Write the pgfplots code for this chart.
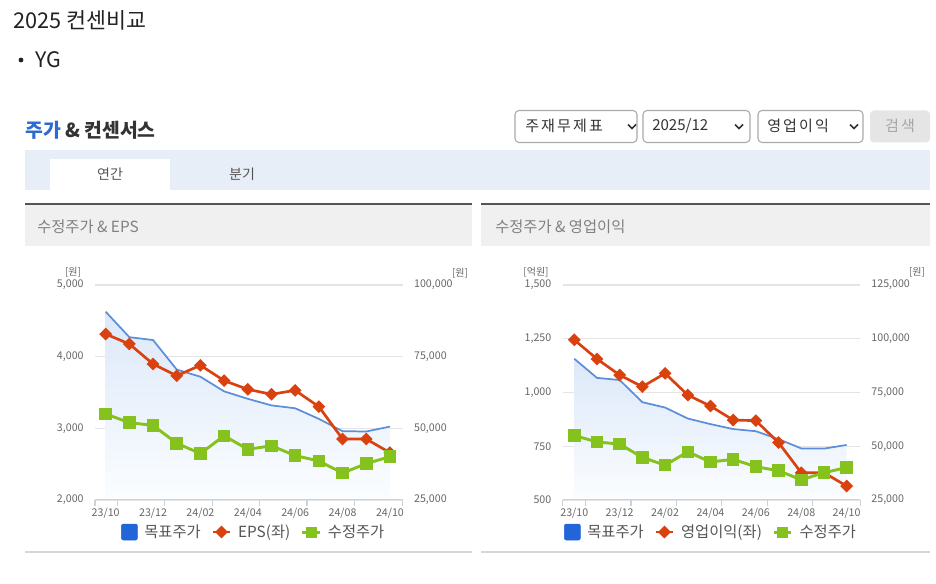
\documentclass[border=0pt]{standalone}
\usepackage{pgfplots}
\pgfplotsset{compat=1.18}
\usepackage{pgfplotstable}
\usepackage{fontspec}
\setmainfont{Noto Sans CJK KR}

\definecolor{lnblue}{HTML}{5B8EDB}
\definecolor{legblue}{HTML}{2165D9}
\definecolor{lnred}{HTML}{D9420F}
\definecolor{lngreen}{HTML}{86C21E}
\definecolor{areatop}{HTML}{DCE8F9}
\definecolor{areabot}{HTML}{FBFDFF}
\definecolor{axisc}{HTML}{C9D3DF}
\definecolor{gridc}{HTML}{E4E4E4}
\definecolor{tickc}{HTML}{666666}
\definecolor{legtxt}{HTML}{555555}
\definecolor{tabbar}{HTML}{E7EEF8}
\definecolor{headbg}{HTML}{F0F0F0}
\definecolor{headln}{HTML}{555555}
\definecolor{botln}{HTML}{D6D6D6}
\definecolor{titleblue}{HTML}{2E6BD0}
\definecolor{txtdark}{HTML}{222222}
\definecolor{txtmid}{HTML}{333333}
\definecolor{boxln}{HTML}{AAAAAA}

\newcommand\fs[1]{\fontsize{#1}{#1}\selectfont}
\newcommand\spaced{\addfontfeatures{LetterSpace=14}}

% month index, target price, EPS, operating profit (100M KRW), adjusted price
\pgfplotstableread{
i  tgt    eps   op    adj
0  90700  4316  1245  55000
1  81800  4177  1156  52000
2  80800  3898  1081  51000
3  70500  3734  1027  44800
4  68000  3879  1089  41200
5  62900  3665  988   47400
6  60300  3544  937   42700
7  58000  3475  872   43900
8  57000  3530  869   40500
9  53300  3302  767   38600
10 49000  2851  627   34400
11 48900  2851  627   37700
12 50600  2660  565   40100
}\tbl

\pgfplotsset{
  base/.style={
    anchor=south west, scale only axis, height=161.25pt,
    axis line style={draw=none}, major tick length=0pt,
    ticklabel style={font=\fs{8}, text=tickc},
    scaled y ticks=false,
    /pgf/number format/fixed,
    /pgf/number format/1000 sep={,},
    /pgf/number format/assume math mode=true,
  },
  rightax/.style={
    base, yticklabel pos=right, ymajorgrids,
    major grid style={gridc, line width=0.9pt},
    yticklabel style={xshift=5pt},
    xtick={0,2,...,12},
    xticklabels={23/10,23/12,24/02,24/04,24/06,24/08,24/10},
    xticklabel style={yshift=-2.5pt},
    xtick pos=left,
    minor tick length=4.5pt,
    minor x tick style={axisc, line width=0.8pt},
    tick align=outside,
  },
  leftax/.style={base, xtick=\empty, yticklabel style={xshift=-5pt}},
  legax/.style={base, hide axis,
    legend style={draw=none, fill=none, font=\fs{11.5}, text=legtxt,
      legend columns=3, anchor=center,
      /tikz/every odd column/.append style={column sep=3pt},
      /tikz/every even column/.append style={column sep=6pt}},
  },
  legsq/.style={legend image code/.code={\fill[legblue, rounded corners=1.5pt] (0pt,-6pt) rectangle (12pt,6pt);}},
  legln/.style={legend image code/.code={\draw[mark repeat=2,mark phase=2] plot coordinates {(0pt,0pt) (6.5pt,0pt) (13pt,0pt)};}},
  redst/.style={lnred, line width=2pt, mark=square*, mark size=2.4pt, mark options={rotate=45, solid}},
  greenst/.style={lngreen, line width=2.2pt, mark=square*, mark size=3.6pt, mark options={solid}},
}

\begin{document}
\begin{tikzpicture}
\begin{scope}[x=0.75pt, y=-0.75pt]
\path[use as bounding box] (0,0) rectangle (936,584);
\node[anchor=west, inner sep=0, font=\fs{16.3}, text=txtdark] at (13,20) {2025 컨센비교};
\fill[txtdark] (21,60) circle (2.4);
\node[anchor=west, inner sep=0, font=\fs{16}, text=txtdark] at (35,60) {YG};
\node[anchor=west, inner sep=0, font=\bfseries\fs{14.5}] at (25,130) {\textcolor{titleblue}{주가} \textcolor{txtmid}{\& 컨센서스}};
% selectors
\foreach \a/\b/\t/\tx/\cx in {515/637/{\spaced 주재무제표}/525/632, 643/750/2025\slash 12/652/739, 758/863/{\spaced 영업이익}/767/854}{
  \draw[boxln, fill=white, rounded corners=3pt, line width=0.8pt] (\a,110.5) rectangle (\b,142.5);
  \node[anchor=west, inner sep=0, font=\fs{11.3}, text=txtmid] at (\tx,126) {\t};
  \draw[txtmid, line width=1.1pt] (\cx-4,124.5) -- (\cx,128.5) -- (\cx+4,124.5);
}
\fill[black!10, rounded corners=3pt] (870,110.5) rectangle (930,142.5);
\node[font=\fs{11.3}, text=black!35] at (900,126) {\spaced 검색};
% tabs
\fill[tabbar] (25,150) rectangle (930,190);
\fill[white] (50,159) rectangle (170,190);
\node[font=\fs{10.5}, text=legtxt] at (110,174) {연간};
\node[font=\fs{10.5}, text=legtxt] at (242,174) {분기};
% panel heads
\fill[headbg] (25,205) rectangle (472,246.5);
\fill[headbg] (481,205) rectangle (930,246.5);
\draw[headln, line width=1.5pt] (25,204) -- (472,204);
\draw[headln, line width=1.5pt] (481,204) -- (930,204);
\node[anchor=west, inner sep=0, font=\fs{11.5}, text=black!50] at (37,227) {수정주가 \& EPS};
\node[anchor=west, inner sep=0, font=\fs{11.5}, text=black!50] at (495,227) {수정주가 \& 영업이익};
\draw[botln, line width=1.5pt] (25,552) -- (472,552);
\draw[botln, line width=1.5pt] (481,552) -- (930,552);
% units
\node[font=\fs{7.5}, text=tickc] at (73,272) {[원]};
\node[font=\fs{7.5}, text=tickc] at (460,273) {[원]};
\node[font=\fs{7.5}, text=tickc] at (536,272) {[억원]};
\node[font=\fs{7.5}, text=tickc] at (917,272) {[원]};
\coordinate (L) at (95,500);
\coordinate (R) at (562.7,500);
\end{scope}

% ---- left chart: adjusted price & EPS
\begin{axis}[rightax, at={(L)}, width=230.8pt, xmin=-0.45, xmax=12.54,
  minor xtick={-0.45,0.5,2.5,4.5,6.5,8.5,10.5,12.54},
  ymin=25000, ymax=100000, ytick={25000,50000,75000,100000}]
\addplot[draw=none, top color=areatop, bottom color=areabot] table[x=i,y=tgt]{\tbl}
  -- (axis cs:12,25000) -- (axis cs:0,25000) -- cycle;
\addplot[lnblue, line width=1.3pt, no markers] table[x=i,y=tgt]{\tbl};
\draw[axisc, line width=1pt] (rel axis cs:0,0) -- (rel axis cs:1,0);
\end{axis}
\begin{axis}[leftax, at={(L)}, width=230.8pt, xmin=-0.45, xmax=12.54,
  ymin=2000, ymax=5000, ytick={2000,3000,4000,5000}]
\addplot[redst] table[x=i,y=eps]{\tbl};
\end{axis}
\begin{axis}[legax, at={(L)}, width=230.8pt, xmin=-0.45, xmax=12.54,
  ymin=25000, ymax=100000, legend style={at={(0.517,-0.149)}}]
\addplot[greenst, forget plot] table[x=i,y=adj]{\tbl};
\addlegendimage{legsq}
\addlegendentry{목표주가}
\addlegendimage{redst, legln}
\addlegendentry{EPS(좌)}
\addlegendimage{greenst, mark size=3pt, legln}
\addlegendentry{수정주가}
\end{axis}

% ---- right chart: adjusted price & operating profit
\begin{axis}[rightax, at={(R)}, width=223pt, xmin=-0.51, xmax=12.59,
  minor xtick={-0.51,0.5,2.5,4.5,6.5,8.5,10.5,12.59},
  ymin=25000, ymax=125000, ytick={25000,50000,75000,100000,125000}]
\addplot[draw=none, top color=areatop, bottom color=areabot] table[x=i,y=tgt]{\tbl}
  -- (axis cs:12,25000) -- (axis cs:0,25000) -- cycle;
\addplot[lnblue, line width=1.3pt, no markers] table[x=i,y=tgt]{\tbl};
\draw[axisc, line width=1pt] (rel axis cs:0,0) -- (rel axis cs:1,0);
\end{axis}
\begin{axis}[leftax, at={(R)}, width=223pt, xmin=-0.51, xmax=12.59,
  ymin=500, ymax=1500, ytick={500,750,1000,1250,1500}]
\addplot[redst] table[x=i,y=op]{\tbl};
\end{axis}
\begin{axis}[legax, at={(R)}, width=223pt, xmin=-0.51, xmax=12.59,
  ymin=25000, ymax=125000, legend style={at={(0.5,-0.149)}}]
\addplot[greenst, forget plot] table[x=i,y=adj]{\tbl};
\addlegendimage{legsq}
\addlegendentry{목표주가}
\addlegendimage{redst, legln}
\addlegendentry{영업이익(좌)}
\addlegendimage{greenst, mark size=3pt, legln}
\addlegendentry{수정주가}
\end{axis}
\end{tikzpicture}
\end{document}
